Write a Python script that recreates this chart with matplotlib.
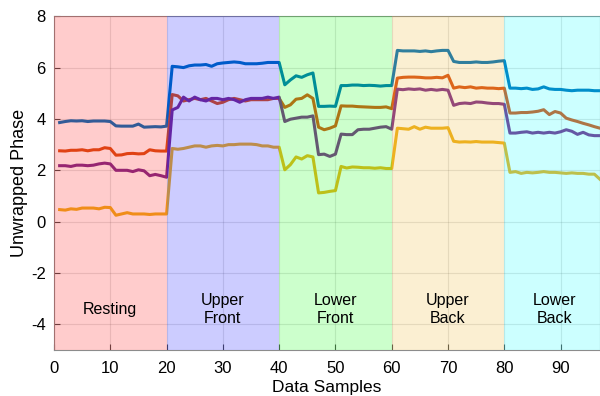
import numpy as np
import matplotlib.pyplot as plt

plt.rcParams['font.family'] = ['Liberation Sans', 'DejaVu Sans']
plt.rcParams['axes.unicode_minus'] = False

# sample index
samples = np.arange(1, 98)

# unwrapped phase for the four channels
phase_blue = [3.86, 3.90, 3.93, 3.92, 3.93, 3.90, 3.92, 3.92, 3.92, 3.90,
              3.73, 3.72, 3.72, 3.72, 3.80, 3.68, 3.69, 3.70, 3.69, 3.72,
              6.05, 6.03, 6.00, 6.07, 6.10, 6.10, 6.12, 6.05, 6.15, 6.18,
              6.20, 6.22, 6.20, 6.15, 6.15, 6.15, 6.17, 6.20, 6.20, 6.20,
              5.33, 5.52, 5.68, 5.62, 5.72, 5.79, 4.49, 4.49, 4.50, 4.49,
              5.30, 5.30, 5.32, 5.32, 5.30, 5.31, 5.30, 5.28, 5.30, 5.30,
              6.67, 6.65, 6.65, 6.65, 6.63, 6.65, 6.62, 6.65, 6.67, 6.67,
              6.24, 6.20, 6.20, 6.20, 6.22, 6.20, 6.20, 6.22, 6.25, 6.27,
              5.20, 5.20, 5.18, 5.20, 5.15, 5.17, 5.25, 5.17, 5.15, 5.15,
              5.12, 5.10, 5.12, 5.12, 5.12, 5.10, 5.10]

phase_orange = [2.76, 2.75, 2.78, 2.78, 2.80, 2.76, 2.80, 2.80, 2.88, 2.85,
                2.59, 2.60, 2.65, 2.66, 2.64, 2.65, 2.80, 2.76, 2.75, 2.75,
                4.95, 4.90, 4.70, 4.75, 4.80, 4.75, 4.80, 4.70, 4.60, 4.65,
                4.75, 4.80, 4.75, 4.70, 4.75, 4.75, 4.75, 4.75, 4.80, 4.80,
                4.45, 4.55, 4.77, 4.80, 4.94, 4.80, 3.68, 3.58, 3.64, 3.73,
                4.51, 4.50, 4.50, 4.48, 4.47, 4.46, 4.45, 4.45, 4.47, 4.40,
                5.59, 5.62, 5.63, 5.63, 5.62, 5.60, 5.60, 5.62, 5.60, 5.70,
                5.20, 5.25, 5.22, 5.25, 5.20, 5.22, 5.20, 5.20, 5.18, 5.20,
                4.23, 4.23, 4.25, 4.25, 4.27, 4.30, 4.36, 4.17, 4.29, 4.23,
                4.03, 3.96, 3.90, 3.83, 3.77, 3.70, 3.64]

phase_purple = [2.18, 2.18, 2.15, 2.20, 2.20, 2.18, 2.20, 2.25, 2.28, 2.25,
                2.00, 2.00, 2.00, 1.95, 2.02, 1.98, 1.79, 1.84, 1.79, 1.73,
                4.35, 4.45, 4.85, 4.70, 4.85, 4.75, 4.70, 4.80, 4.80, 4.75,
                4.80, 4.75, 4.65, 4.75, 4.80, 4.80, 4.80, 4.85, 4.80, 4.85,
                3.90, 3.99, 4.03, 4.07, 4.07, 4.12, 2.61, 2.63, 2.54, 2.63,
                3.41, 3.39, 3.39, 3.58, 3.60, 3.60, 3.64, 3.68, 3.70, 3.60,
                5.16, 5.14, 5.17, 5.15, 5.17, 5.12, 5.15, 5.12, 5.15, 5.12,
                4.53, 4.60, 4.62, 4.60, 4.66, 4.65, 4.62, 4.60, 4.60, 4.57,
                3.45, 3.45, 3.48, 3.50, 3.45, 3.48, 3.45, 3.48, 3.45, 3.50,
                3.58, 3.52, 3.40, 3.48, 3.38, 3.35, 3.35]

phase_yellow = [0.47, 0.45, 0.50, 0.48, 0.53, 0.53, 0.53, 0.50, 0.56, 0.55,
                0.25, 0.30, 0.35, 0.30, 0.30, 0.30, 0.28, 0.30, 0.30, 0.30,
                2.85, 2.82, 2.85, 2.90, 2.95, 2.95, 2.90, 2.95, 2.97, 2.95,
                3.00, 3.00, 3.02, 3.02, 3.02, 3.00, 2.95, 2.95, 2.90, 2.90,
                2.02, 2.22, 2.52, 2.44, 2.57, 2.52, 1.12, 1.14, 1.18, 1.21,
                2.15, 2.09, 2.13, 2.12, 2.10, 2.10, 2.08, 2.10, 2.07, 2.07,
                3.64, 3.62, 3.60, 3.70, 3.60, 3.68, 3.64, 3.64, 3.64, 3.66,
                3.13, 3.10, 3.11, 3.10, 3.12, 3.10, 3.10, 3.10, 3.08, 3.06,
                1.92, 1.95, 1.88, 1.92, 1.90, 1.92, 1.95, 1.92, 1.92, 1.90,
                1.88, 1.90, 1.88, 1.88, 1.85, 1.85, 1.65]

# activity segments
seg_starts = [0, 20, 40, 60, 80]
seg_ends = [20, 40, 60, 80, 100]
seg_label_x = [10, 30, 50, 70, 89]
seg_labels = ['Resting', 'Upper\nFront', 'Lower\nFront', 'Upper\nBack', 'Lower\nBack']
seg_colors = ['red', 'blue', 'lime', (0.929, 0.694, 0.125), 'cyan']

fig = plt.figure(figsize=(6, 3.96), dpi=100)
ax = fig.add_axes([0.09, 0.116, 0.91, 0.843])

ax.plot(samples, phase_blue, color='#0072BD', lw=2.2)
ax.plot(samples, phase_orange, color='#D95319', lw=2.2)
ax.plot(samples, phase_yellow, color='#EDB120', lw=2.2)
ax.plot(samples, phase_purple, color='#7E2F8E', lw=2.2)

# translucent patches drawn over the lines
for s, e, lx, lab, c in zip(seg_starts, seg_ends, seg_label_x, seg_labels, seg_colors):
    ax.axvspan(s, e, color=c, alpha=0.2, lw=0, zorder=3)
    ax.text(lx, -3.42, lab, ha='center', va='center', fontsize=11.5,
            linespacing=1.3, zorder=4)

ax.set_xlim(0, 97)
ax.set_ylim(-5, 8)
ax.set_xticks(np.arange(0, 100, 10))
ax.set_yticks(np.arange(-4, 9, 2))
ax.grid(True, color='0.15', alpha=0.12, lw=0.8)
ax.tick_params(direction='in', labelsize=12, length=4, color='0.3')
ax.tick_params(axis='x', pad=8)
ax.tick_params(axis='y', pad=6)
for sp in ax.spines.values():
    sp.set_color('0.55')
    sp.set_linewidth(0.8)
ax.set_xlabel('Data Samples', fontsize=12.5, labelpad=3)
ax.set_ylabel('Unwrapped Phase', fontsize=13, labelpad=2)

fig.savefig('out.png', dpi=100)
